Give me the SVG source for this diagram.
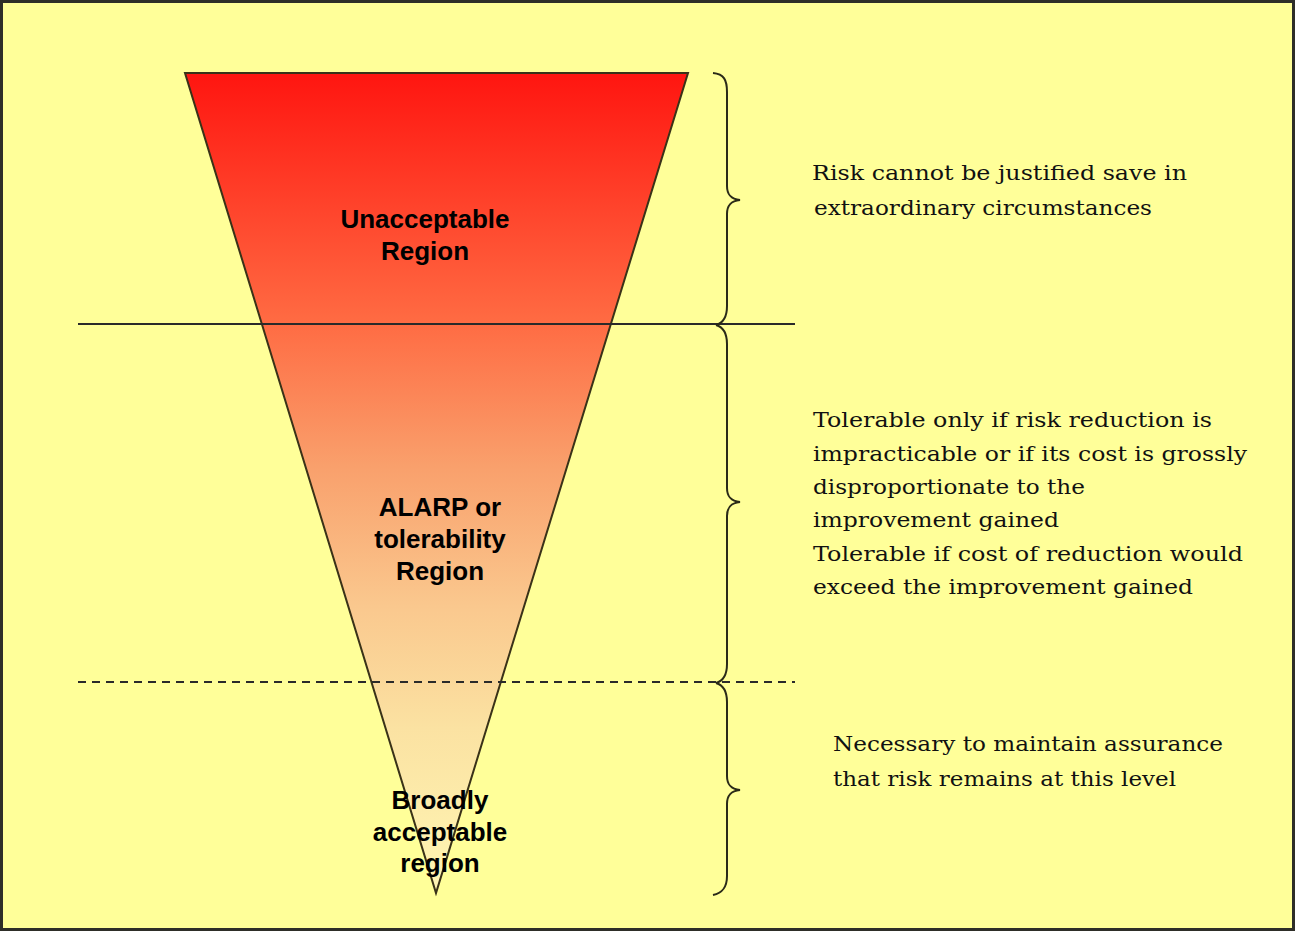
<svg xmlns="http://www.w3.org/2000/svg" width="1295" height="931" viewBox="0 0 1295 931">
  <style>
    .frame { fill: #FFFF99; stroke: #2e2e28; stroke-width: 3; }
    .tri { fill: url(#riskGrad); stroke: #3a3218; stroke-width: 2; stroke-linejoin: miter; }
    .rule { stroke: #2a2a2a; stroke-width: 1.8; fill: none; }
    .dash { stroke: #2a2a2a; stroke-width: 1.8; fill: none; stroke-dasharray: 8 6; }
    .brace { stroke: #2a2a18; stroke-width: 2; fill: none; }
    .label { font-family: "Liberation Sans", Arial, sans-serif; font-weight: bold; font-size: 26px; fill: #000; text-anchor: middle; }
    .note { font-family: "DejaVu Serif", "Liberation Serif", serif; font-size: 20px; fill: #111; }
  </style>
  <defs>
    <linearGradient id="riskGrad" gradientUnits="userSpaceOnUse" x1="0" y1="73" x2="0" y2="893">
      <stop offset="0" stop-color="#FF1510"/>
      <stop offset="0.3" stop-color="#FF6A42"/>
      <stop offset="0.48" stop-color="#F9A06C"/>
      <stop offset="0.65" stop-color="#FAC88E"/>
      <stop offset="0.8" stop-color="#FBE2A2"/>
      <stop offset="1" stop-color="#FFF6B4"/>
    </linearGradient>
  </defs>

  <rect class="frame" x="1.5" y="1.5" width="1292" height="928"/>

  <!-- risk triangle -->
  <g id="triangle">
    <polygon class="tri" points="185,73 688,73 436,893"/>
  </g>

  <!-- region boundaries and braces -->
  <g id="connectors">
    <line class="rule" x1="78" y1="324" x2="795" y2="324"/>
    <line class="dash" x1="78" y1="682" x2="795" y2="682"/>
    <path class="brace" d="M713,73 C724,74 727,80 727,92 L727,186 C727,195 731,199 740,200 C731,201 727,205 727,214 L727,306 C727,318 723,323 716,325"/>
    <path class="brace" d="M716,325 C723,327 727,332 727,344 L727,488 C727,497 731,501 740,502 C731,503 727,507 727,516 L727,664 C727,676 723,681 716,683"/>
    <path class="brace" d="M716,683 C723,685 727,690 727,702 L727,776 C727,785 731,789 740,790 C731,791 727,795 727,804 L727,876 C727,888 722,893 713,895"/>
  </g>

  <g id="unacceptable">
    <text class="label" x="425" y="228">Unacceptable</text>
    <text class="label" x="425" y="260">Region</text>
  </g>

  <g id="alarp">
    <text class="label" x="440" y="516">ALARP or</text>
    <text class="label" x="440" y="548">tolerability</text>
    <text class="label" x="440" y="580">Region</text>
  </g>

  <g id="broadly">
    <text class="label" x="440" y="809">Broadly</text>
    <text class="label" x="440" y="841">acceptable</text>
    <text class="label" x="440" y="872">region</text>
  </g>

  <g id="note-unacceptable">
    <text class="note" x="812" y="180" textLength="375" lengthAdjust="spacingAndGlyphs">Risk cannot be justified save in</text>
    <text class="note" x="814" y="215" textLength="338" lengthAdjust="spacingAndGlyphs">extraordinary circumstances</text>
  </g>

  <g id="note-alarp">
    <text class="note" x="813" y="427" textLength="399" lengthAdjust="spacingAndGlyphs">Tolerable only if risk reduction is</text>
    <text class="note" x="813" y="461" textLength="434" lengthAdjust="spacingAndGlyphs">impracticable or if its cost is grossly</text>
    <text class="note" x="813" y="494" textLength="272" lengthAdjust="spacingAndGlyphs">disproportionate to the</text>
    <text class="note" x="813" y="527" textLength="246" lengthAdjust="spacingAndGlyphs">improvement gained</text>
    <text class="note" x="813" y="561" textLength="430" lengthAdjust="spacingAndGlyphs">Tolerable if cost of reduction would</text>
    <text class="note" x="813" y="594" textLength="380" lengthAdjust="spacingAndGlyphs">exceed the improvement gained</text>
  </g>

  <g id="note-broadly">
    <text class="note" x="833" y="751" textLength="390" lengthAdjust="spacingAndGlyphs">Necessary to maintain assurance</text>
    <text class="note" x="833" y="786" textLength="343" lengthAdjust="spacingAndGlyphs">that risk remains at this level</text>
  </g>
</svg>
